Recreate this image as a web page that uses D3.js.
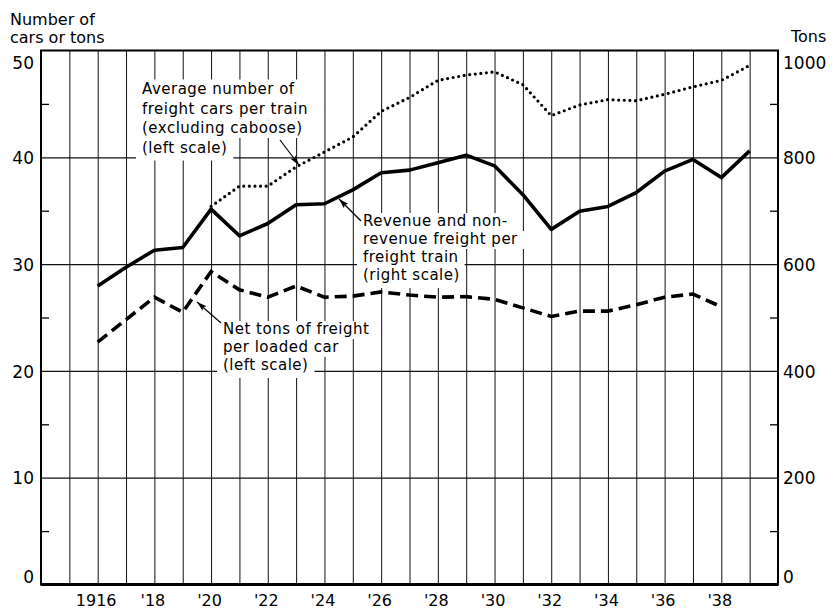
<!DOCTYPE html>
<html><head><meta charset="utf-8">
<script src="https://cdn.jsdelivr.net/npm/d3@7"></script>
<style>
html,body{margin:0;padding:0;background:#fff;}
svg{display:block;font-family:"DejaVu Sans",sans-serif;}
</style></head><body>
<svg id="chart" width="833" height="609"></svg>
<script>
// ---- data ----
const freightYears = [1916,1917,1918,1919,1920,1921,1922,1923,1924,1925,1926,1927,1928,1929,1930,1931,1932,1933,1934,1935,1936,1937,1938,1939];
const freightPerTrainTons = [559,594,626,631,703,653,676,711,713,739,771,776,790,804,784,730,665,699,708,734,774,796,762,812];

const carsYears = [1920,1921,1922,1923,1924,1925,1926,1927,1928,1929,1930,1931,1932,1933,1934,1935,1936,1937,1938,1939];
const carsPerTrain = [35.4,37.3,37.3,39.1,40.5,41.9,44.3,45.6,47.2,47.7,48.0,46.8,43.9,44.9,45.4,45.3,45.9,46.6,47.2,48.6];

const tonsYears = [1916,1917,1918,1919,1920,1921,1922,1923,1924,1925,1926,1927,1928,1929,1930,1931,1932,1933,1934,1935,1936,1937,1938];
const tonsPerCar = [22.7,24.8,26.9,25.5,29.3,27.6,26.9,27.95,26.9,27.0,27.4,27.1,26.9,26.95,26.7,25.9,25.1,25.6,25.6,26.2,26.9,27.2,26.0];

const gridYears = [1915,1916,1917,1918,1919,1920,1921,1922,1923,1924,1925,1926,1927,1928,1929,1930,1931,1932,1933,1934,1935,1936,1937,1938,1939];
const labelYears = [1916,1918,1920,1922,1924,1926,1928,1930,1932,1934,1936,1938];
const yearLabels = ["1916","'18","'20","'22","'24","'26","'28","'30","'32","'34","'36","'38"];
const leftTicks = [0,10,20,30,40,50];
const leftMinor = [5,15,25,35,45];
const rightTicks = [0,200,400,600,800,1000];
const rightMinor = [100,300,500,700,900];

const annotations = [
  {lines:["Average number of","freight cars per train","(excluding caboose)","(left scale)"], x:142, y:94, lh:19.5,
   arrow:[[280,140],[299,165]]},
  {lines:["Revenue and non-","revenue freight per","freight train","(right scale)"], x:363, y:226, lh:18,
   arrow:[[361,221],[339,199]]},
  {lines:["Net tons of freight","per loaded car","(left scale)"], x:223, y:334, lh:18,
   arrow:[[221,323],[197,302]]}
];

// ---- layout ----
const L=41, R=778, T=50.5, B=584.5;
const svg = d3.select("#chart");
const x = d3.scaleLinear().domain([1914,1940]).range([L,R]);
const yL = d3.scaleLinear().domain([0,50]).range([B,T]);
const yR = d3.scaleLinear().domain([0,1000]).range([B,T]);

svg.append("rect").attr("width",833).attr("height",609).attr("fill","#fff");

svg.append("defs").append("marker")
  .attr("id","ah").attr("viewBox","0 0 10 6").attr("refX",10).attr("refY",3)
  .attr("markerWidth",10).attr("markerHeight",6).attr("markerUnits","userSpaceOnUse")
  .attr("orient","auto")
  .append("path").attr("d","M0,0 L10,3 L0,6 L2,3 Z").attr("fill","#000");

// vertical grid
const vg = svg.append("g").attr("transform",`translate(0,${B})`)
  .call(d3.axisBottom(x).tickValues(gridYears).tickSize(-(B-T)).tickFormat(""));
vg.select(".domain").remove();
vg.selectAll("line").attr("stroke","#111").attr("stroke-width",1);

// horizontal grid
const hg = svg.append("g").attr("transform",`translate(${L},0)`)
  .call(d3.axisLeft(yL).tickValues([10,20,30,40]).tickSize(-(R-L)).tickFormat(""));
hg.select(".domain").remove();
hg.selectAll("line").attr("stroke","#111").attr("stroke-width",1.3);

// annotation masks + text
const ann = svg.append("g");
annotations.forEach(a=>{
  const g = ann.append("g");
  const texts = a.lines.map((s,i)=> g.append("text").attr("x",a.x).attr("y",a.y+i*a.lh)
      .attr("font-size",15).attr("letter-spacing",0.5).attr("fill","#000").text(s));
  texts.forEach((t,i)=>{
    const bb = t.node().getBBox();
    g.insert("rect","text").attr("x",bb.x-6).attr("y",a.y+i*a.lh-a.lh+5)
      .attr("width",bb.width+12).attr("height",a.lh+ (i===a.lines.length-1?3:0))
      .attr("fill","#fff");
  });
  g.append("line").attr("x1",a.arrow[0][0]).attr("y1",a.arrow[0][1])
    .attr("x2",a.arrow[1][0]).attr("y2",a.arrow[1][1])
    .attr("stroke","#000").attr("stroke-width",1.2).attr("marker-end","url(#ah)");
});

// minor ticks
const lm = svg.append("g").attr("transform",`translate(${L},0)`)
  .call(d3.axisRight(yL).tickValues(leftMinor).tickSize(8).tickFormat(""));
lm.select(".domain").remove();
lm.selectAll("line").attr("stroke","#000").attr("stroke-width",1.3);
const rm = svg.append("g").attr("transform",`translate(${R},0)`)
  .call(d3.axisLeft(yR).tickValues(rightMinor).tickSize(8).tickFormat(""));
rm.select(".domain").remove();
rm.selectAll("line").attr("stroke","#000").attr("stroke-width",1.3);

// tick labels
const la = svg.append("g").attr("transform",`translate(${L},0)`)
  .call(d3.axisLeft(yL).tickValues(leftTicks).tickSize(0).tickPadding(7).tickFormat(d3.format("d")));
la.select(".domain").remove();
la.selectAll("text").attr("font-size",17).attr("font-family","DejaVu Sans").attr("fill","#000")
  .attr("dy",d=> d===50? "1.05em" : d===0? "-0.1em" : "0.36em");

const ra = svg.append("g").attr("transform",`translate(${R},0)`)
  .call(d3.axisRight(yR).tickValues(rightTicks).tickSize(0).tickPadding(5).tickFormat(d3.format("d")));
ra.select(".domain").remove();
ra.selectAll("text").attr("font-size",17).attr("font-family","DejaVu Sans").attr("fill","#000")
  .attr("dy",d=> d===1000? "1.05em" : d===0? "-0.1em" : "0.36em");

const ba = svg.append("g").attr("transform",`translate(-2,${B})`)
  .call(d3.axisBottom(x).tickValues(labelYears).tickSize(0)
    .tickFormat((d,i)=>yearLabels[i]));
ba.select(".domain").remove();
ba.selectAll("text").attr("font-size",16).attr("font-family","DejaVu Sans").attr("fill","#000")
  .attr("dy",null).attr("y",21.5);

// axis titles
svg.append("text").attr("x",10).attr("y",25).attr("font-size",16).text("Number of");
svg.append("text").attr("x",10).attr("y",43).attr("font-size",16).text("cars or tons");
svg.append("text").attr("x",791).attr("y",42).attr("font-size",16).text("Tons");

// data lines
const lineR = d3.line().x((d,i)=>x(freightYears[i])).y(d=>yR(d));
svg.append("path").datum(freightPerTrainTons).attr("d",lineR)
  .attr("fill","none").attr("stroke","#000").attr("stroke-width",3.6).attr("stroke-linejoin","round");

const lineC = d3.line().x((d,i)=>x(carsYears[i])).y(d=>yL(d));
svg.append("path").datum(carsPerTrain).attr("d",lineC)
  .attr("fill","none").attr("stroke","#000").attr("stroke-width",3.2)
  .attr("stroke-linecap","round").attr("stroke-dasharray","0,5.6");

const lineT = d3.line().x((d,i)=>x(tonsYears[i])).y(d=>yL(d));
svg.append("path").datum(tonsPerCar).attr("d",lineT)
  .attr("fill","none").attr("stroke","#000").attr("stroke-width",3.6)
  .attr("stroke-dasharray","12,6");

// frame
svg.append("rect").attr("x",L).attr("y",T).attr("width",R-L).attr("height",B-T)
  .attr("fill","none").attr("stroke","#000").attr("stroke-width",2);
svg.append("line").attr("x1",L).attr("x2",R).attr("y1",B).attr("y2",B)
  .attr("stroke","#000").attr("stroke-width",3);
</script>
</body></html>
